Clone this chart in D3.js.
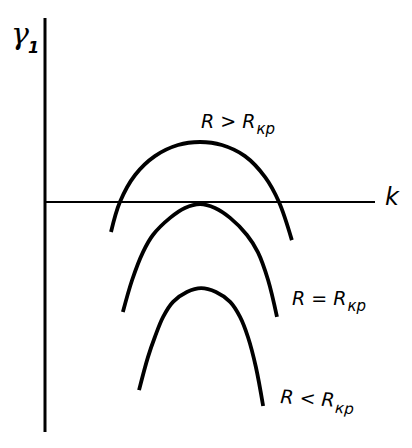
<!DOCTYPE html>
<html><head><meta charset="utf-8">
<script src="https://cdn.jsdelivr.net/npm/d3@7"></script>
<style>html,body{margin:0;padding:0;background:#fff;}svg{display:block;}</style>
</head><body>
<svg id="c" width="412" height="448"></svg>
<script>
// Curves: [k, gamma1]
const curveAbove = [[2.00,-1.00],[2.27,0],[2.73,0.90],[3.33,1.53],[4.03,1.90],[4.70,2.00],[5.36,1.90],[6.06,1.53],[6.67,0.83],[7.09,0],[7.48,-1.27]];
const curveEqual = [[2.36,-3.67],[2.64,-2.60],[2.97,-1.67],[3.27,-1.10],[3.79,-0.53],[4.24,-0.20],[4.70,-0.07],[5.15,-0.20],[5.61,-0.53],[6.12,-1.10],[6.45,-1.67],[6.76,-2.60],[7.03,-3.83]];
const curveBelow = [[2.85,-6.27],[3.12,-5.17],[3.33,-4.50],[3.58,-3.83],[3.88,-3.33],[4.30,-3.00],[4.73,-2.87],[5.18,-3.00],[5.61,-3.33],[5.91,-3.83],[6.15,-4.50],[6.39,-5.50],[6.61,-6.80]];
const curveLabels = [["R > R","кр"],["R = R","кр"],["R < R","кр"]];
const axisLabels = ["γ","1","k"];

const svg = d3.select("#c");
const x = d3.scaleLinear().domain([0,10]).range([45,375]);
const y = d3.scaleLinear().domain([0,1]).range([202,172]);

// axes
svg.append("line").attr("x1",x(0)).attr("x2",x(0)).attr("y1",y(6.13)).attr("y2",y(-7.67))
  .attr("stroke","#000").attr("stroke-width",3);
svg.append("line").attr("x1",x(0)).attr("x2",x(10)).attr("y1",y(0)).attr("y2",y(0))
  .attr("stroke","#000").attr("stroke-width",2);

const line = d3.line().x(d=>x(d[0])).y(d=>y(d[1])).curve(d3.curveCatmullRom);
[curveAbove,curveEqual,curveBelow].forEach(c=>{
  svg.append("path").attr("d",line(c)).attr("fill","none").attr("stroke","#000")
    .attr("stroke-width",3.8).attr("stroke-linecap","butt");
});

const font = "'DejaVu Sans', sans-serif";
// axis labels
const g = svg.append("text").attr("x",11).attr("y",44).attr("font-family","'DejaVu Serif', serif")
  .attr("font-style","italic").attr("font-size",30).attr("fill","#000");
g.append("tspan").text(axisLabels[0]);
g.append("tspan").attr("font-size",16).attr("dy",9).attr("dx",-1).attr("font-family",font).attr("font-weight","bold").text(axisLabels[1]);
svg.append("text").attr("x",385).attr("y",205).attr("font-family",font).attr("font-style","italic")
  .attr("font-size",24).attr("fill","#000").text(axisLabels[2]);

// curve labels
const pos = [[201,128,0],[292,305,0],[280,403,4]];
curveLabels.forEach((l,i)=>{
  const t = svg.append("text").attr("x",pos[i][0]).attr("y",pos[i][1])
    .attr("transform",`rotate(${pos[i][2]},${pos[i][0]},${pos[i][1]})`)
    .attr("font-family",font).attr("font-style","italic").attr("font-size",19).attr("fill","#000");
  t.append("tspan").text(l[0]);
  t.append("tspan").attr("font-size",15).attr("dy",6).attr("dx",1).text(l[1]);
});
</script>
</body></html>
